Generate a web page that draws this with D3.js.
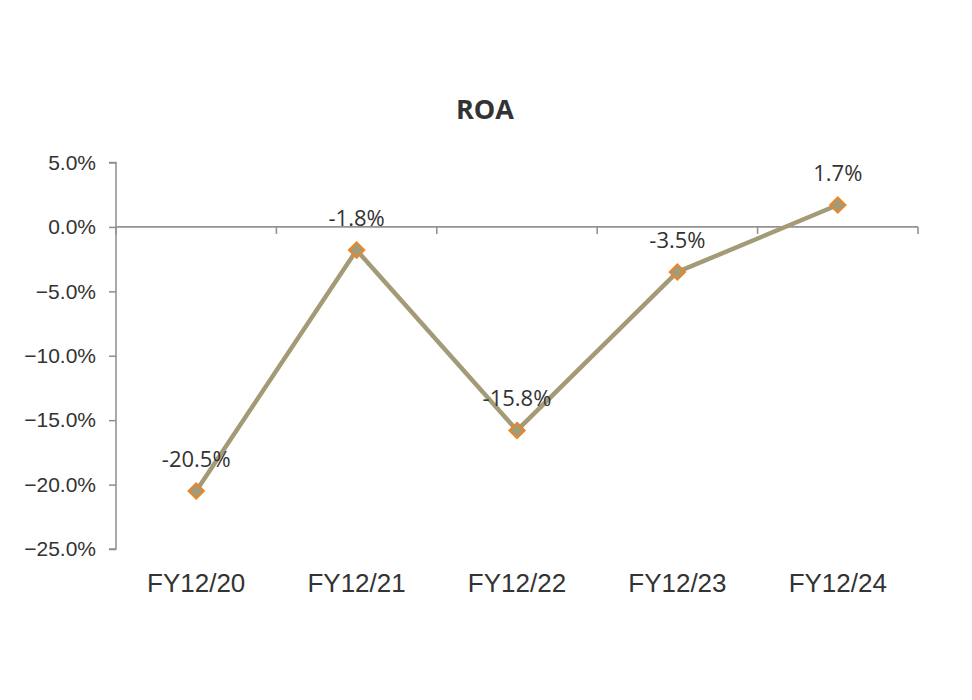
<!DOCTYPE html>
<html><head><meta charset="utf-8">
<script src="https://cdn.jsdelivr.net/npm/d3@7"></script>
<style>body{margin:0;background:#fff;}svg{display:block;}</style>
</head><body>
<svg id="c" width="972" height="700"></svg>
<script>
const categories = ["FY12/20","FY12/21","FY12/22","FY12/23","FY12/24"];
const roaValues = [-20.5, -1.8, -15.8, -3.5, 1.7];
const dataLabels = ["-20.5%","-1.8%","-15.8%","-3.5%","1.7%"];
const yTicks = [5, 0, -5, -10, -15, -20, -25];
const title = "ROA";

const svg = d3.select("#c");
const mLeft = 116, mRight = 918, mTop = 162.5, mBottom = 549;

const x = d3.scaleBand().domain(categories).range([mLeft, mRight]).padding(0);
const y = d3.scaleLinear().domain([-25, 5]).range([mBottom, mTop]);

svg.append("text").attr("x", 485).attr("y", 119).attr("text-anchor","middle")
  .attr("font-family","'Open Sans', sans-serif").attr("font-weight","bold")
  .attr("font-size", 27).attr("fill","#333").text(title);

// y axis
const yAxis = d3.axisLeft(y).tickValues(yTicks).tickSize(7).tickPadding(13)
  .tickFormat(d => (d < 0 ? "\u2212" : "") + Math.abs(d).toFixed(1) + "%");
const gy = svg.append("g").attr("transform", `translate(${mLeft},0)`).call(yAxis);
gy.select(".domain").attr("stroke","#939393").attr("stroke-width",1.6).attr("d", `M-7,${mTop}H0V${mBottom}H-7`);
gy.selectAll(".tick line").attr("stroke","#939393").attr("stroke-width",1.6);
gy.selectAll(".tick text").attr("font-family","'Liberation Sans', Arial, sans-serif")
  .attr("font-size",21).attr("fill","#333");

// x axis at zero
const gx = svg.append("g").attr("transform", `translate(0,${y(0)})`);
gx.append("line").attr("x1", mLeft).attr("x2", mRight).attr("stroke","#939393").attr("stroke-width",1.6);
const bounds = categories.map(c => x(c)).concat([mRight]);
gx.selectAll(".bt").data(bounds).enter().append("line")
  .attr("x1", d => d).attr("x2", d => d).attr("y1", 0).attr("y2", 7)
  .attr("stroke","#939393").attr("stroke-width",1.6);

// x labels
svg.selectAll(".xl").data(categories).enter().append("text")
  .attr("x", d => x(d) + x.bandwidth()/2).attr("y", 592).attr("text-anchor","middle")
  .attr("font-family","'Liberation Sans', Arial, sans-serif").attr("font-size",26)
  .attr("fill","#333").text(d => d);

// line
const line = d3.line().x((d,i) => x(categories[i]) + x.bandwidth()/2).y(d => y(d));
svg.append("path").datum(roaValues).attr("d", line).attr("fill","none")
  .attr("stroke","#A39B78").attr("stroke-width",4.5).attr("stroke-linejoin","miter");

// markers
svg.selectAll(".mk").data(roaValues).enter().append("path")
  .attr("d", d3.symbol().type(d3.symbolDiamond2).size(150))
  .attr("transform", (d,i) => `translate(${x(categories[i]) + x.bandwidth()/2},${y(d)})`)
  .attr("fill","#A39B78").attr("stroke","#E8862A").attr("stroke-width",2);

// data labels
svg.selectAll(".dl").data(roaValues).enter().append("text")
  .attr("x", (d,i) => x(categories[i]) + x.bandwidth()/2)
  .attr("y", d => y(d) - 24).attr("text-anchor","middle")
  .attr("font-family","'Open Sans', sans-serif").attr("font-size",22)
  .attr("fill","#333").text((d,i) => dataLabels[i]);
</script>
</body></html>
